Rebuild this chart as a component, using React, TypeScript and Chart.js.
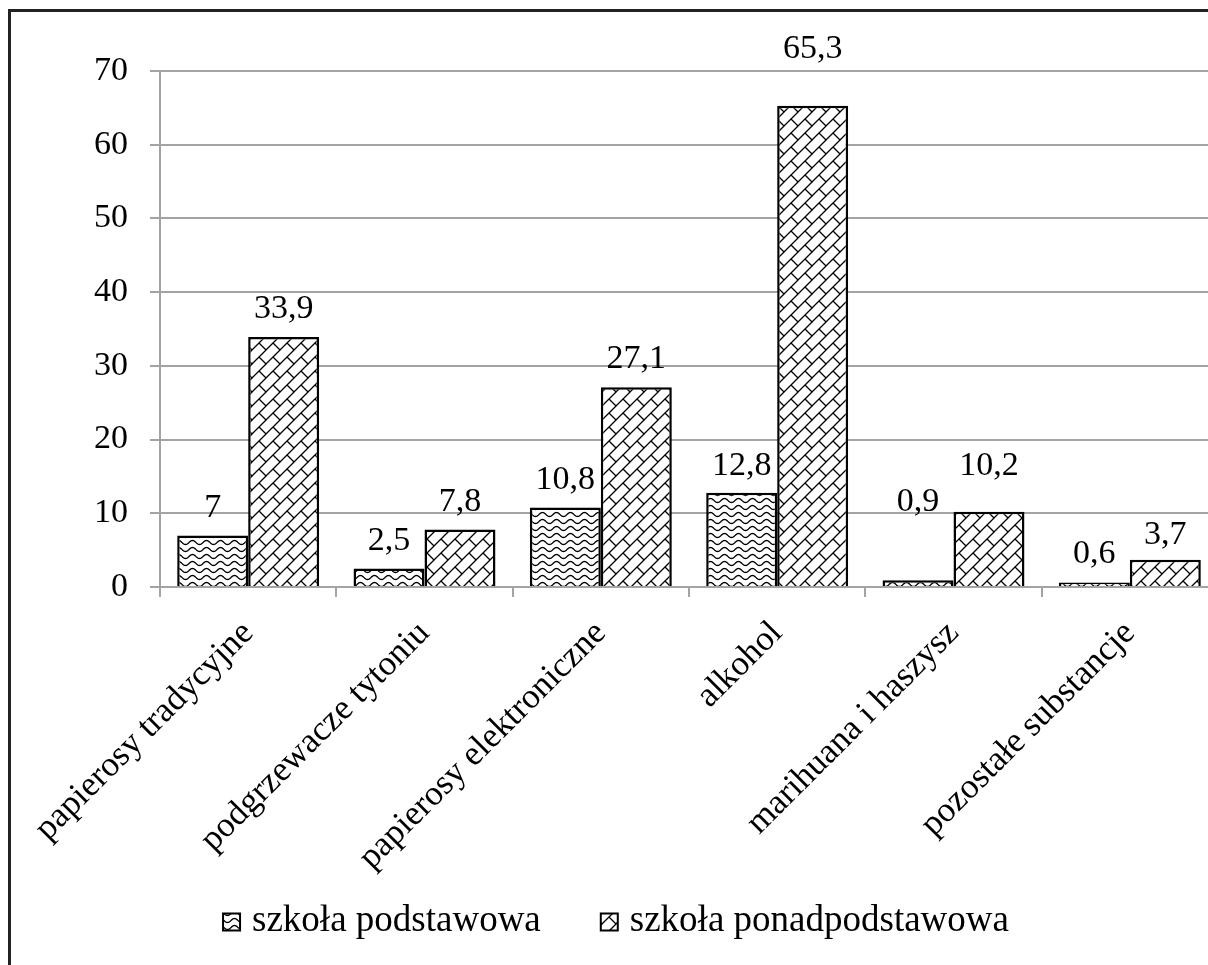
import React, { useEffect, useRef } from "react";
import { Chart, registerables } from "chart.js";

Chart.register(...registerables);

const categories = [
  "papierosy tradycyjne",
  "podgrzewacze tytoniu",
  "papierosy elektroniczne",
  "alkohol",
  "marihuana i haszysz",
  "pozostałe substancje",
];
const seriesNames = ["szkoła podstawowa", "szkoła ponadpodstawowa"];
const podstawowa = [7, 2.5, 10.8, 12.8, 0.9, 0.6];
const ponadpodstawowa = [33.9, 7.8, 27.1, 65.3, 10.2, 3.7];
const yMin = 0;
const yMax = 70;
const yStep = 10;

// label lift above bar top (px), per dataset / category
const liftPodstawowa = [27, 27, 27, 27, 78, 28];
const liftPonad = [28, 27, 28, 57, 46, 25];

const FONT = '"Liberation Serif", "Times New Roman", serif';
const GRID = "#a3a3a3";

function makeWave(): CanvasPattern | string {
  const c = document.createElement("canvas");
  c.width = 14;
  c.height = 7;
  const g = c.getContext("2d");
  if (!g) return "#fff";
  g.fillStyle = "#fff";
  g.fillRect(0, 0, 14, 7);
  g.strokeStyle = "#000";
  g.lineWidth = 1.3;
  g.beginPath();
  for (let x = -1; x <= 15; x += 0.5) {
    const y = 3.5 + 2 * Math.sin((2 * Math.PI * x) / 14);
    if (x === -1) g.moveTo(x, y);
    else g.lineTo(x, y);
  }
  g.stroke();
  const p = g.createPattern(c, "repeat");
  return p || "#fff";
}

function makeBrick(): CanvasPattern | string {
  const s = 14;
  const c = document.createElement("canvas");
  c.width = s;
  c.height = s;
  const g = c.getContext("2d");
  if (!g) return "#fff";
  g.fillStyle = "#fff";
  g.fillRect(0, 0, s, s);
  g.strokeStyle = "#000";
  g.lineWidth = 1.3;
  g.beginPath();
  g.moveTo(-1, s + 1);
  g.lineTo(s + 1, -1);
  g.moveTo(-1, 1);
  g.lineTo(1, -1);
  g.moveTo(s - 1, s + 1);
  g.lineTo(s + 1, s - 1);
  g.moveTo(s / 2, s / 2);
  g.lineTo(s + 1, s + 1);
  g.moveTo(-1, -1);
  g.lineTo(0.5, 0.5);
  g.stroke();
  const p = g.createPattern(c, "repeat");
  return p || "#fff";
}

const lifts = [liftPodstawowa, liftPonad];

const valueLabels = {
  id: "valueLabels",
  afterDatasetsDraw(chart: any) {
    const ctx = chart.ctx;
    ctx.save();
    ctx.font = `34px ${FONT}`;
    ctx.fillStyle = "#000";
    ctx.textAlign = "center";
    ctx.textBaseline = "middle";
    chart.data.datasets.forEach((ds: any, di: number) => {
      const meta = chart.getDatasetMeta(di);
      meta.data.forEach((el: any, i: number) => {
        const v = ds.data[i];
        ctx.fillText(String(v).replace(".", ","), el.x, el.y - lifts[di][i]);
      });
    });
    ctx.restore();
  },
};

// bottom legend drawn from the datasets
const bottomLegend = {
  id: "bottomLegend",
  afterDraw(chart: any) {
    const ctx = chart.ctx;
    const box = 17;
    const gapText = 12;
    const gapItem = 60;
    const cy = 921;
    const cx = 616;
    ctx.save();
    ctx.font = `37px ${FONT}`;
    ctx.textBaseline = "middle";
    ctx.textAlign = "left";
    const items = chart.data.datasets.map((ds: any) => ({
      ds,
      w: ctx.measureText(ds.label).width,
    }));
    const total =
      items.reduce((a: number, it: any) => a + box + gapText + it.w, 0) +
      gapItem * (items.length - 1);
    let x = cx - total / 2;
    items.forEach((it: any) => {
      ctx.fillStyle = it.ds.backgroundColor;
      ctx.fillRect(x, cy - box / 2 + 1, box, box);
      ctx.strokeStyle = "#000";
      ctx.lineWidth = 2;
      ctx.strokeRect(x, cy - box / 2 + 1, box, box);
      ctx.fillStyle = "#000";
      ctx.fillText(it.ds.label, x + box + gapText, cy);
      x += box + gapText + it.w + gapItem;
    });
    ctx.restore();
  },
};

export default function App() {
  const ref = useRef<HTMLCanvasElement | null>(null);

  useEffect(() => {
    if (!ref.current) return;
    const wave = makeWave();
    const brick = makeBrick();
    const chart = new Chart(ref.current, {
      type: "bar",
      data: {
        labels: categories,
        datasets: [
          {
            label: seriesNames[0],
            data: podstawowa,
            backgroundColor: wave as any,
            borderColor: "#000",
            borderWidth: 2.5,
            barPercentage: 1,
            categoryPercentage: 0.805,
          },
          {
            label: seriesNames[1],
            data: ponadpodstawowa,
            backgroundColor: brick as any,
            borderColor: "#000",
            borderWidth: 2.5,
            barPercentage: 1,
            categoryPercentage: 0.805,
          },
        ],
      },
      options: {
        responsive: false,
        animation: false,
        devicePixelRatio: 1,
        layout: { padding: { left: 0, right: 12, top: 71, bottom: 90 } },
        plugins: {
          tooltip: { enabled: false },
          legend: { display: false },
        },
        scales: {
          x: {
            grid: {
              drawOnChartArea: false,
              drawTicks: true,
              tickLength: 10,
              color: GRID,
              lineWidth: 2,
            },
            border: { display: true, color: GRID, width: 2 },
            ticks: {
              color: "#000",
              font: { family: FONT, size: 35 },
              minRotation: 45,
              maxRotation: 45,
              autoSkip: false,
              padding: 16,
            },
            afterFit(scale: any) {
              scale.height = 965 - 90 - 587;
              scale.paddingLeft = 0;
              scale.paddingRight = 0;
            },
          },
          y: {
            min: yMin,
            max: yMax,
            grid: {
              color: GRID,
              lineWidth: 2,
              drawTicks: true,
              tickLength: 10,
            },
            border: { display: true, color: GRID, width: 2 },
            ticks: {
              stepSize: yStep,
              color: "#000",
              font: { family: FONT, size: 34 },
              padding: 22,
            },
            afterFit(scale: any) {
              scale.width = 160;
            },
          },
        },
      },
      plugins: [valueLabels, bottomLegend],
    });
    return () => chart.destroy();
  }, []);

  return (
    <div
      style={{
        position: "fixed",
        left: 0,
        top: 0,
        width: 1208,
        height: 965,
        overflow: "hidden",
        background: "#fff",
      }}
    >
      <div
        style={{
          position: "absolute",
          left: 8,
          top: 9,
          width: 1400,
          height: 1200,
          borderLeft: "3px solid #222",
          borderTop: "3px solid #222",
        }}
      />
      <canvas
        ref={ref}
        width={1230}
        height={965}
        style={{ position: "absolute", left: 0, top: 0, width: 1230, height: 965 }}
      />
    </div>
  );
}
